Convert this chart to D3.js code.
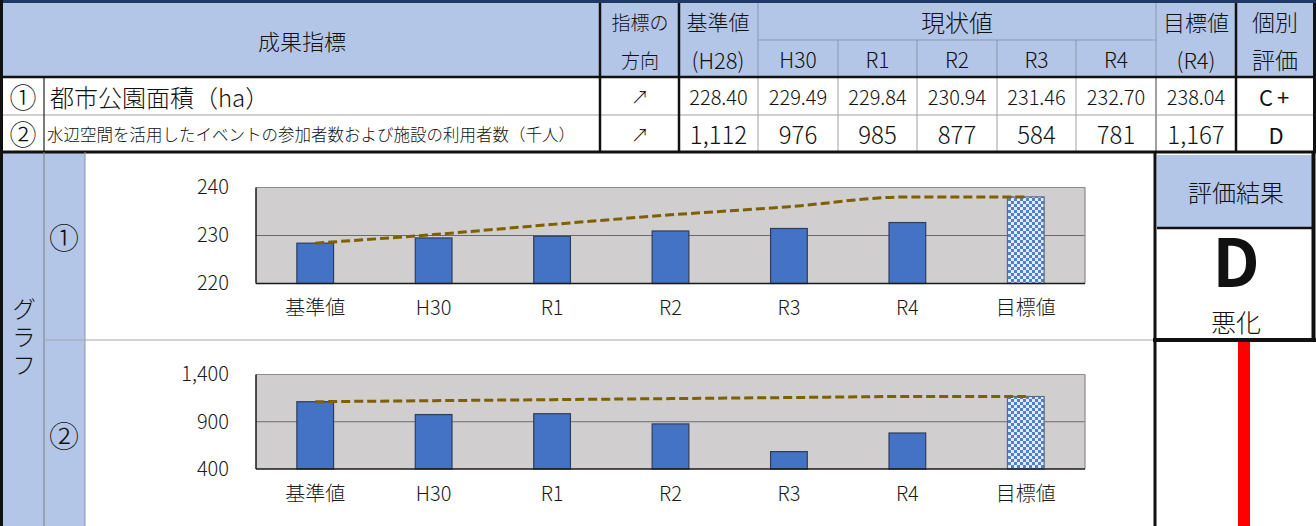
<!DOCTYPE html>
<html lang="ja">
<head>
<meta charset="utf-8">
<script src="https://cdn.jsdelivr.net/npm/d3@7"></script>
<style>
  body { margin: 0; background: #fff; }
  svg { display: block; font-family: "Noto Sans CJK JP", sans-serif; }
</style>
</head>
<body>
<svg id="sheet" width="1316" height="526"></svg>
<script>
// 表とグラフのデータ
const categories = ['基準値', 'H30', 'R1', 'R2', 'R3', 'R4', '目標値'];
const yearHeads = ['H30', 'R1', 'R2', 'R3', 'R4'];

// ① 都市公園面積（ha）
const parkArea = [228.40, 229.49, 229.84, 230.94, 231.46, 232.70, 238.04];
const parkPath = [228.40, 230.2, 232.3, 234.3, 236.0, 238.04, 238.04];
const parkTicks = [220, 230, 240];

// ② 水辺空間の利用者数（千人）
const waterUsers = [1112, 976, 985, 877, 584, 781, 1167];
const waterPath = [1112, 1123, 1134, 1145, 1156, 1167, 1167];
const waterTicks = [400, 900, 1400];

const ratings = ['C+', 'D'];
const result = ['D', '悪化'];

const BLUE_HEAD = '#b4c6e7';
const svg = d3.select('#sheet');

function hline(x1, x2, y, color, w) {
    svg.append('line').attr('x1', x1).attr('x2', x2).attr('y1', y).attr('y2', y)
        .attr('stroke', color).attr('stroke-width', w);
}
function vline(x, y1, y2, color, w) {
    svg.append('line').attr('x1', x).attr('x2', x).attr('y1', y1).attr('y2', y2)
        .attr('stroke', color).attr('stroke-width', w);
}
function label(x, y, str, size, anchor, weight) {
    return svg.append('text')
        .attr('x', x).attr('y', y)
        .attr('text-anchor', anchor || 'middle')
        .attr('dominant-baseline', 'central')
        .attr('font-size', size)
        .attr('font-weight', weight || 300)
        .attr('fill', '#111')
        .text(str);
}

// 背景の塗り
svg.append('rect').attr('x', 3).attr('y', 3).attr('width', 1311).attr('height', 74).attr('fill', BLUE_HEAD);
svg.append('rect').attr('x', 3).attr('y', 152).attr('width', 82).attr('height', 374).attr('fill', BLUE_HEAD);
svg.append('rect').attr('x', 1157).attr('y', 155).attr('width', 155).attr('height', 72).attr('fill', BLUE_HEAD);

// 表の罫線
let yearCols = [758, 838, 917, 997, 1076, 1156];
yearCols.forEach((x, i) => {
    let top = (i === 0 || i === 5) ? 3 : 40;
    vline(x, top, 77, '#8497b0', 1);
    vline(x, 77, 152, i === 5 ? '#404040' : '#a0a0a0', 1);
});
hline(758, 1156, 40, '#8497b0', 1);
hline(3, 1314, 115, '#a0a0a0', 1);
vline(44, 77, 152, '#222', 1.2);
[600, 679, 1236].forEach(x => vline(x, 3, 152, '#111', 2.5));
vline(1314.5, 0, 152, '#111', 3);
hline(0, 1316, 77, '#111', 2.5);
hline(0, 1316, 152, '#111', 3);
svg.append('rect').attr('x', 0).attr('y', 0).attr('width', 1316).attr('height', 3).attr('fill', '#1f3864');
svg.append('rect').attr('x', 0).attr('y', 0).attr('width', 3).attr('height', 526).attr('fill', '#111');

// 見出し
label(302, 40, '成果指標', 22);
label(640, 21, '指標の', 19);
label(640, 59, '方向', 19);
label(718, 21, '基準値', 21);
label(718, 59, '(H28)', 22);
label(957, 21, '現状値', 24);
yearHeads.forEach((h, i) => label((yearCols[i] + yearCols[i + 1]) / 2, 59, h, 21));
label(1196, 21, '目標値', 22);
label(1196, 59, '(R4)', 22);
label(1275, 21, '個別', 23);
label(1275, 59, '評価', 23);

// 行
let valueCols = [679].concat(yearCols, [1236]);
let rows = [
    { y: 96, mark: '①', name: '都市公園面積（ha）', nameSize: 24, values: parkArea, fmt: d3.format('.2f'), size: 20 },
    { y: 133.5, mark: '②', name: '水辺空間を活用したイベントの参加者数および施設の利用者数（千人）', nameSize: 16.5, values: waterUsers, fmt: d3.format(','), size: 24 }
];
rows.forEach((r, ri) => {
    label(23, r.y, r.mark, 27);
    label(r.nameSize > 20 ? 50 : 47, r.y, r.name, r.nameSize, 'start');
    label(640, r.y, '↗', 18);
    r.values.forEach((v, i) => label((valueCols[i] + valueCols[i + 1]) / 2, r.y, r.fmt(v), r.size));
    label(1276, r.y, ratings[ri], 22, 'middle', 400).attr('letter-spacing', ri === 0 ? 4 : 0);
});

// グラフ欄
vline(44, 152, 526, '#808080', 1);
vline(85, 152, 526, '#8497b0', 1);
hline(44, 1154, 340, '#a6a6a6', 1);
svg.append('text')
    .attr('x', 24).attr('y', 297)
    .attr('writing-mode', 'tb')
    .attr('font-size', 24).attr('font-weight', 300)
    .attr('letter-spacing', 4)
    .attr('fill', '#111')
    .text('グラフ');
label(64, 236, '①', 30);
label(64, 434, '②', 30);

// チェック柄（目標値）
let pat = svg.append('defs').append('pattern')
    .attr('id', 'checker').attr('patternUnits', 'userSpaceOnUse')
    .attr('width', 6).attr('height', 6);
pat.append('rect').attr('width', 6).attr('height', 6).attr('fill', '#e4ecf8');
pat.append('rect').attr('width', 3).attr('height', 3).attr('fill', '#4f7fd0');
pat.append('rect').attr('x', 3).attr('y', 3).attr('width', 3).attr('height', 3).attr('fill', '#4f7fd0');

function drawChart(cfg) {
    let g = svg.append('g');
    let x = d3.scaleBand().domain(categories).range([256, 1085])
        .paddingInner(0.69).paddingOuter(0.345);
    let y = d3.scaleLinear().domain(d3.extent(cfg.ticks)).range([cfg.bottom, cfg.top]);

    g.append('rect')
        .attr('x', 256).attr('y', cfg.top)
        .attr('width', 829).attr('height', cfg.bottom - cfg.top)
        .attr('fill', '#d0cece');

    g.selectAll('.grid').data(cfg.ticks.slice(1, -1)).join('line')
        .attr('x1', 256).attr('x2', 1085)
        .attr('y1', d => y(d)).attr('y2', d => y(d))
        .attr('stroke', '#6b6b6b').attr('stroke-width', 1.2);

    g.selectAll('.bar').data(cfg.values).join('rect')
        .attr('x', (d, i) => x(categories[i]))
        .attr('y', d => y(d))
        .attr('width', x.bandwidth())
        .attr('height', d => cfg.bottom - y(d))
        .attr('fill', (d, i) => i === categories.length - 1 ? 'url(#checker)' : '#4472c4')
        .attr('stroke', (d, i) => i === categories.length - 1 ? '#5a6a8a' : '#2f3d5c')
        .attr('stroke-width', 1.2);

    let path = d3.line()
        .x((d, i) => x(categories[i]) + x.bandwidth() / 2)
        .y(d => y(d))
        .curve(d3.curveMonotoneX);
    g.append('path')
        .attr('d', path(cfg.path))
        .attr('fill', 'none')
        .attr('stroke', '#7f6000')
        .attr('stroke-width', 3)
        .attr('stroke-dasharray', '9,4');

    // 枠線
    g.append('line').attr('x1', 256).attr('x2', 1085).attr('y1', cfg.top).attr('y2', cfg.top)
        .attr('stroke', '#8c8c8c').attr('stroke-width', 1.2);
    g.append('line').attr('x1', 1085).attr('x2', 1085).attr('y1', cfg.top).attr('y2', cfg.bottom)
        .attr('stroke', '#8c8c8c').attr('stroke-width', 1.2);
    g.append('line').attr('x1', 256).attr('x2', 256).attr('y1', cfg.top).attr('y2', cfg.bottom)
        .attr('stroke', '#1a1a1a').attr('stroke-width', 1.5);
    g.append('line').attr('x1', 256).attr('x2', 1085).attr('y1', cfg.bottom).attr('y2', cfg.bottom)
        .attr('stroke', '#1a1a1a').attr('stroke-width', 1.5);

    let yAxis = g.append('g').attr('transform', 'translate(256,0)')
        .call(d3.axisLeft(y).tickValues(cfg.ticks).tickFormat(cfg.fmt).tickSize(0).tickPadding(27));
    let xAxis = g.append('g').attr('transform', `translate(0,${cfg.bottom})`)
        .call(d3.axisBottom(x).tickSize(0).tickPadding(cfg.pad));
    [yAxis, xAxis].forEach(a => {
        a.select('.domain').remove();
        a.attr('font-family', '"Noto Sans CJK JP", sans-serif').attr('font-size', 20)
            .attr('font-weight', 300);
        a.selectAll('text').attr('fill', '#1a1a1a');
    });
}

drawChart({ values: parkArea, path: parkPath, ticks: parkTicks, top: 187.5, bottom: 283.5, fmt: d3.format('d'), pad: 17 });
drawChart({ values: waterUsers, path: waterPath, ticks: waterTicks, top: 374.5, bottom: 469, fmt: d3.format(','), pad: 18 });

// 評価結果
vline(1155, 152, 526, '#111', 3);
vline(1313.5, 152, 342, '#111', 4);
hline(1153, 1316, 340, '#111', 4);
hline(1157, 1312, 228, '#111', 2.5);
label(1236, 191, '評価結果', 24);
label(1236, 258, result[0], 66, 'middle', 'bold');
label(1236, 321, result[1], 25);
svg.append('rect').attr('x', 1238).attr('y', 342).attr('width', 12).attr('height', 184).attr('fill', '#ff0000');
</script>
</body>
</html>
